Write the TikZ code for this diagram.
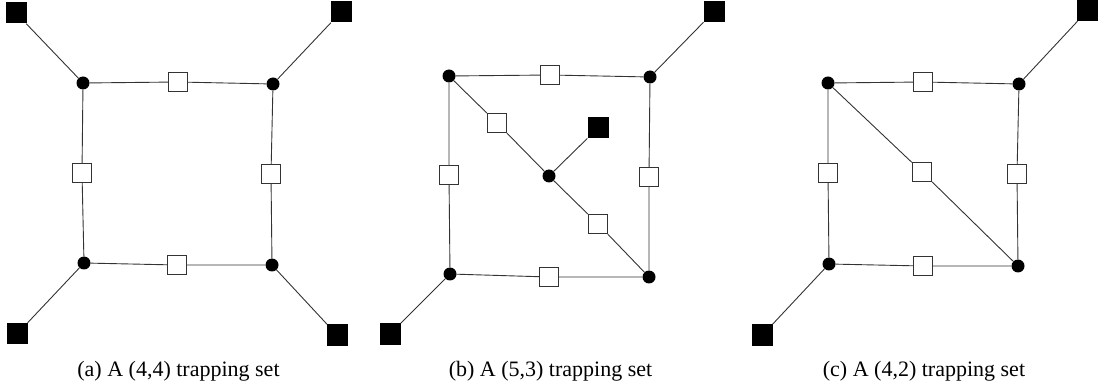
\documentclass[tikz,border=0pt]{standalone}
\usepackage{fontspec}
\setmainfont{Liberation Serif}
\begin{document}
\begin{tikzpicture}[x=1pt,y=-1pt,
  var/.style={circle,fill=black,minimum size=13pt,inner sep=0pt},
  chk/.style={rectangle,draw=black!80,line width=0.9pt,fill=white,minimum size=19.5pt,inner sep=0pt},
  ext/.style={rectangle,fill=black,minimum size=21pt,inner sep=0pt},
  conn/.style={draw=black!80,line width=0.9pt},
  captxt/.style={font=\fontsize{22}{26}\selectfont,anchor=base}]
\useasboundingbox (0,0) rectangle (1104,390);
% ---------- (a) ----------
\node[var] (a1) at (83,83) {};
\node[var] (a2) at (273,84) {};
\node[var] (a3) at (84,263) {};
\node[var] (a4) at (272,265) {};
\node[chk] (ac1) at (178,82) {};
\node[chk] (ac2) at (82,173) {};
\node[chk] (ac3) at (271,174) {};
\node[chk] (ac4) at (177,265) {};
\node[ext] (ae1) at (16,13) {};
\node[ext] (ae2) at (341,12) {};
\node[ext] (ae3) at (17.5,333.5) {};
\node[ext] (ae4) at (337,335) {};
\draw[conn] (a1) -- (ac1) -- (a2);
\draw[conn] (a1) -- (ac2) -- (a3);
\draw[conn] (a2) -- (ac3) -- (a4);
\draw[conn] (a3) -- (ac4) -- (a4);
\draw[conn] (a1) -- (ae1);
\draw[conn] (a2) -- (ae2);
\draw[conn] (a3) -- (ae3);
\draw[conn] (a4) -- (ae4);
% ---------- (b) ----------
\node[var] (b1) at (449,76) {};
\node[var] (b2) at (650,77) {};
\node[var] (b3) at (450,274) {};
\node[var] (b4) at (649,277) {};
\node[var] (b5) at (549,176) {};
\node[chk] (bc1) at (550,75) {};
\node[chk] (bc2) at (449,175) {};
\node[chk] (bc3) at (649,177) {};
\node[chk] (bc4) at (549,277) {};
\node[chk] (bc5) at (497,123) {};
\node[chk] (bc6) at (598,224) {};
\node[ext] (be1) at (714,11.5) {};
\node[ext] (be2) at (598,128) {};
\node[ext] (be3) at (390,334) {};
\draw[conn] (b1) -- (bc1) -- (b2);
\draw[conn] (b1) -- (bc2) -- (b3);
\draw[conn] (b2) -- (bc3) -- (b4);
\draw[conn] (b3) -- (bc4) -- (b4);
\draw[conn] (b1) -- (bc5) -- (b5);
\draw[conn] (b5) -- (bc6) -- (b4);
\draw[conn] (b2) -- (be1);
\draw[conn] (b5) -- (be2);
\draw[conn] (b3) -- (be3);
% ---------- (c) ----------
\node[var] (c1) at (828,83) {};
\node[var] (c2) at (1019,84) {};
\node[var] (c3) at (829,264) {};
\node[var] (c4) at (1018,266) {};
\node[chk] (cc1) at (923,82) {};
\node[chk] (cc2) at (828,173) {};
\node[chk] (cc3) at (1017,174) {};
\node[chk] (cc4) at (923,266) {};
\node[chk] (cc5) at (922,172) {};
\node[ext] (ce1) at (1087.5,10.5) {};
\node[ext] (ce3) at (762.5,335) {};
\draw[conn] (c1) -- (cc1) -- (c2);
\draw[conn] (c1) -- (cc2) -- (c3);
\draw[conn] (c2) -- (cc3) -- (c4);
\draw[conn] (c3) -- (cc4) -- (c4);
\draw[conn] (c1) -- (cc5) -- (c4);
\draw[conn] (c2) -- (ce1);
\draw[conn] (c3) -- (ce3);
% ---------- captions ----------
\node[captxt] (capa) at (178.5,377) {(a)\ A (4,4) trapping set};
\node[captxt] (capb) at (550.5,377) {(b)\ A (5,3) trapping set};
\node[captxt] (capc) at (924,377) {(c)\ A (4,2) trapping set};
\end{tikzpicture}
\end{document}
